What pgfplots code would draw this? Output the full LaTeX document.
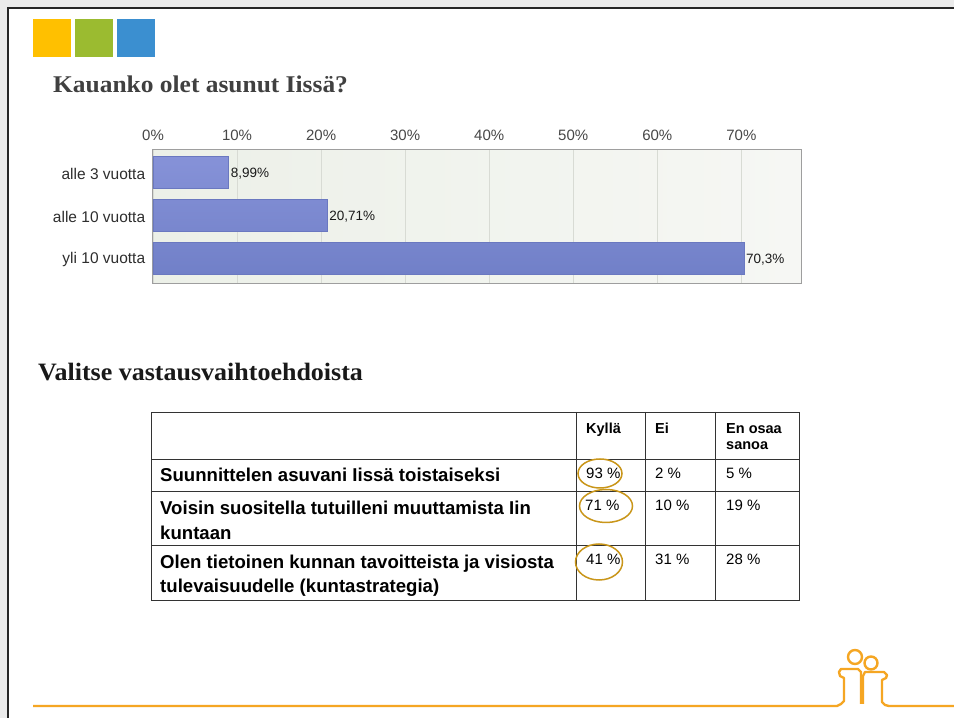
\documentclass[border=0pt]{standalone}
\usepackage{fontspec}
\setmainfont{Liberation Sans}
\newfontfamily\titlefont{Liberation Serif}
\usepackage{pgfplots}
\pgfplotsset{compat=1.18}
\definecolor{sqyellow}{HTML}{FFC000}
\definecolor{sqgreen}{HTML}{9BBB30}
\definecolor{sqblue}{HTML}{3B8FD0}
\definecolor{titlegray}{HTML}{404040}
\definecolor{bartop}{HTML}{8692D8}
\definecolor{barbot}{HTML}{7180C8}
\definecolor{barline}{HTML}{6A78C0}
\definecolor{bgleft}{HTML}{ECF0E8}
\definecolor{bgright}{HTML}{F6F7F4}
\definecolor{gridc}{HTML}{D8DBD4}
\definecolor{borderc}{HTML}{9E9E9E}
\definecolor{ringc}{HTML}{C9961A}
\definecolor{logoc}{HTML}{F5A623}
\begin{document}
\begin{tikzpicture}[x=1pt,y=1pt]
\path[use as bounding box] (0,0) rectangle (954,718);
\fill[black!8] (0,0) rectangle (954,718);
\begin{scope}[y=-1pt,yshift=718pt]
\fill[white] (8,8) rectangle (954,718);
\draw[line width=2.6pt, black!85] (8,718) -- (8,8) -- (954,8);
% squares
\fill[sqyellow] (33,19) rectangle (71,57);
\fill[sqgreen] (75,19) rectangle (113,57);
\fill[sqblue] (117,19) rectangle (155,57);
% titles
\node[anchor=base west, inner sep=0, text=titlegray, font=\titlefont\bfseries\fontsize{24}{28}\selectfont] at (53,93) {\scalebox{1.06}[1]{Kauanko olet asunut Iissä?}};
\node[anchor=base west, inner sep=0, text=black!90, font=\titlefont\bfseries\fontsize{25}{29}\selectfont] at (38,381) {\scalebox{1.04}[1]{Valitse vastausvaihtoehdoista}};
% table
\draw[line width=0.9pt, black!80] (151,412) rectangle (799,600);
\draw[line width=0.9pt, black!80] (576,412) -- (576,600) (645,412) -- (645,600) (715,412) -- (715,600)
  (151,459) -- (799,459) (151,491) -- (799,491) (151,545) -- (799,545);
\begin{scope}[every node/.style={anchor=base west, inner sep=0, text=black}]
\node[font=\bfseries\fontsize{14.5}{17}\selectfont] at (586,434) {Kyllä};
\node[font=\bfseries\fontsize{14.5}{17}\selectfont] at (655,434) {Ei};
\node[font=\bfseries\fontsize{14.5}{17}\selectfont] at (726,434) {En osaa};
\node[font=\bfseries\fontsize{14.5}{17}\selectfont] at (726,449.5) {sanoa};
\node[font=\bfseries\fontsize{18.6}{22}\selectfont] at (160,481.5) {Suunnittelen asuvani Iissä toistaiseksi};
\node[font=\bfseries\fontsize{18.6}{22}\selectfont] at (160,514.5) {Voisin suositella tutuilleni muuttamista Iin};
\node[font=\bfseries\fontsize{18.6}{22}\selectfont] at (160,540) {kuntaan};
\node[font=\bfseries\fontsize{18.6}{22}\selectfont] at (160,568.5) {Olen tietoinen kunnan tavoitteista ja visiosta};
\node[font=\bfseries\fontsize{18.6}{22}\selectfont] at (160,593) {tulevaisuudelle (kuntastrategia)};
\node[font=\fontsize{15}{17}\selectfont] at (586,479) {93 \%};
\node[font=\fontsize{15}{17}\selectfont] at (655,479) {2 \%};
\node[font=\fontsize{15}{17}\selectfont] at (726,479) {5 \%};
\node[font=\fontsize{15}{17}\selectfont] at (585,511) {71 \%};
\node[font=\fontsize{15}{17}\selectfont] at (655,511) {10 \%};
\node[font=\fontsize{15}{17}\selectfont] at (726,511) {19 \%};
\node[font=\fontsize{15}{17}\selectfont] at (586,565) {41 \%};
\node[font=\fontsize{15}{17}\selectfont] at (655,565) {31 \%};
\node[font=\fontsize{15}{17}\selectfont] at (726,565) {28 \%};
\end{scope}
\draw[ringc, line width=1.5pt] (600,473.5) ellipse [x radius=22, y radius=14.5];
\draw[ringc, line width=1.5pt] (606,506) ellipse [x radius=26.5, y radius=16.5];
\draw[ringc, line width=1.5pt] (599,562) ellipse [x radius=23.5, y radius=18];
% footer line and logo
\draw[logoc, line width=2.4pt, line join=round] (33,706) -- (837,706) -- (841,704) -- (844,701) -- (844,678) -- (840,676) -- (839,672) -- (841,669) -- (858,669) -- (861,672) -- (861,704);
\draw[logoc, line width=2.4pt, line join=round] (863,704) -- (863,676) -- (865,672) -- (884,672) -- (887,675) -- (886,678) -- (882,680) -- (882,702) -- (885,705) -- (889,706) -- (954,706);
\draw[logoc, line width=2.4pt] (855,657) circle [radius=7];
\draw[logoc, line width=2.4pt] (871,663) circle [radius=6.5];
\end{scope}
\begin{axis}[
  at={(153pt,434pt)}, anchor=south west,
  width=648pt, height=134pt, scale only axis,
  xbar, bar width=0.74,
  xmin=0, xmax=77.1, ymin=-0.51, ymax=2.6, y dir=reverse,
  ytick={0,1,2}, yticklabels={alle 3 vuotta, alle 10 vuotta, yli 10 vuotta},
  xtick={0,10,20,30,40,50,60,70},
  xticklabels={0\%,10\%,20\%,30\%,40\%,50\%,60\%,70\%},
  xticklabel pos=upper,
  xmajorgrids, major grid style={gridc, line width=0.8pt},
  tick style={draw=none},
  axis line style={draw=borderc, line width=1pt},
  xticklabel style={font=\fontsize{15}{17}\selectfont, text=black!72, yshift=6pt},
  yticklabel style={font=\fontsize{15.5}{18}\selectfont, text=black!82, yshift=-1.5pt},
  axis background/.style={left color=bgleft, right color=bgright},
  nodes near coords, point meta=explicit symbolic,
  nodes near coords style={font=\fontsize{13.5}{15}\selectfont, text=black!90, anchor=west, inner sep=2pt, yshift=-1.5pt},
]
\addplot[draw=barline, top color=bartop, bottom color=barbot] coordinates {(8.99,0) [8,99\%] (20.71,1) [20,71\%] (70.3,2) [70,3\%]};
\end{axis}
\end{tikzpicture}
\end{document}
